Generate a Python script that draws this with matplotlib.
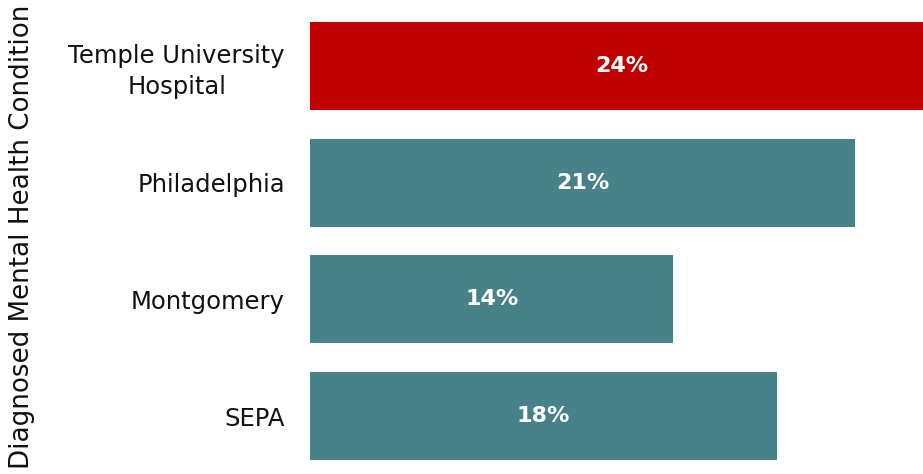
import matplotlib
matplotlib.use("Agg")
import matplotlib.pyplot as plt

categories = ["Temple University\nHospital", "Philadelphia", "Montgomery", "SEPA"]
values = [24, 21, 14, 18]
value_labels = ["24%", "21%", "14%", "18%"]
colors = ["#C00000", "#47818A", "#47818A", "#47818A"]

plt.rcParams['font.family'] = ['DejaVu Sans']

fig = plt.figure(figsize=(9.23, 4.74), dpi=100)
ax = fig.add_axes([310/923, 0, 613/923, 1])
y = list(range(len(categories)))
ax.barh(y, values, height=0.755, color=colors)
ax.set_xlim(0, 613/25.95)
ax.set_ylim(3 + 58/116.67, -66/116.67)
for yi, v, lab in zip(y, values, value_labels):
    ax.text(v/2, yi, lab, ha='center', va='center', color='white',
            fontsize=16, fontweight='bold')
ax.set_yticks(y)
ax.set_yticklabels(categories, fontsize=17.5, color='#111111', linespacing=1.35)
for t in ax.get_yticklabels():
    t.set_multialignment('center')
ax.tick_params(axis='y', length=0, pad=18)
ax.set_xticks([])
for s in ax.spines.values():
    s.set_visible(False)
fig.text(22/923, 0.5, "Diagnosed Mental Health Condition", rotation=90,
         ha='center', va='center', fontsize=18.8, color='#111111')
fig.savefig("out.png", dpi=100)
